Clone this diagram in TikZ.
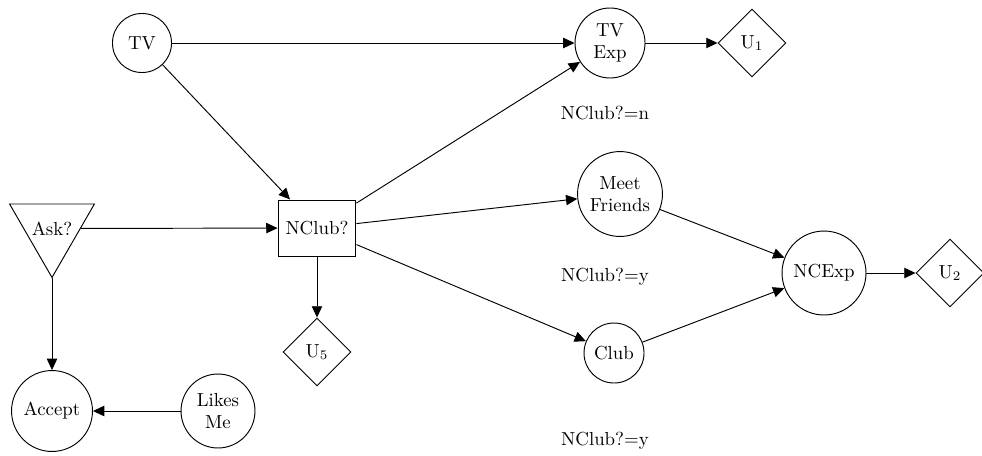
\documentclass[tikz,border=0pt]{standalone}
\usetikzlibrary{shapes.geometric,arrows.meta}
\begin{document}
\begin{tikzpicture}[x=0.53pt,y=-0.53pt,
  every node/.style={font=\normalsize},
  chance/.style={draw,circle,inner sep=0pt,align=center,line width=0.5pt},
  util/.style={draw,diamond,inner sep=0pt,minimum size=36pt,line width=0.5pt},
  decision/.style={draw,rectangle,minimum width=41.3pt,minimum height=29.7pt,line width=0.5pt},
  choice/.style={draw,regular polygon,regular polygon sides=3,shape border rotate=180,
    inner sep=0pt,minimum size=51.9pt,line width=0.5pt,label={center:#1}},
  link/.style={-{Triangle[length=6pt,width=5.5pt]},line width=0.5pt},
  cond/.style={font=\normalsize}]
\useasboundingbox (0,0) rectangle (982,455);

% chance and decision nodes
\node[chance,minimum size=31.3pt] (tv) at (142,43) {TV};
\node[chance,minimum size=37.1pt] (tvexp) at (610,43) {TV\\Exp};
\node[util] (u1) at (752,43) {U$_1$};
\node[chance,minimum size=45pt] (meet) at (620,194) {Meet\\Friends};
\node[choice={Ask?}] (ask) at (52,228.5) {};
\node[decision] (nclub) at (317,228) {NClub?};
\node[chance,minimum size=44.5pt] (ncexp) at (824,273) {NCExp};
\node[util] (u2) at (950,273) {U$_2$};
\node[util] (u5) at (317,352) {U$_5$};
\node[chance,minimum size=31.8pt] (club) at (614,353) {Club};
\node[chance,minimum size=42.9pt] (accept) at (52,411) {Accept};
\node[chance,minimum size=39.2pt] (likes) at (218,411) {Likes\\Me};

% context conditions
\node[cond] (cn) at (605,113) {NClub?=n};
\node[cond] (cy1) at (605,277) {NClub?=y};
\node[cond] (cy2) at (605,441) {NClub?=y};

% influences
\draw[link] (tv) -- (tvexp);
\draw[link] (tv) -- (nclub);
\draw[link] (tvexp) -- (u1);
\draw[link] (ask) -- (nclub);
\draw[link] (ask) -- (accept);
\draw[link] (nclub) -- (tvexp);
\draw[link] (nclub) -- (meet);
\draw[link] (nclub) -- (club);
\draw[link] (nclub) -- (u5);
\draw[link] (meet) -- (ncexp);
\draw[link] (club) -- (ncexp);
\draw[link] (ncexp) -- (u2);
\draw[link] (likes) -- (accept);
\end{tikzpicture}
\end{document}
